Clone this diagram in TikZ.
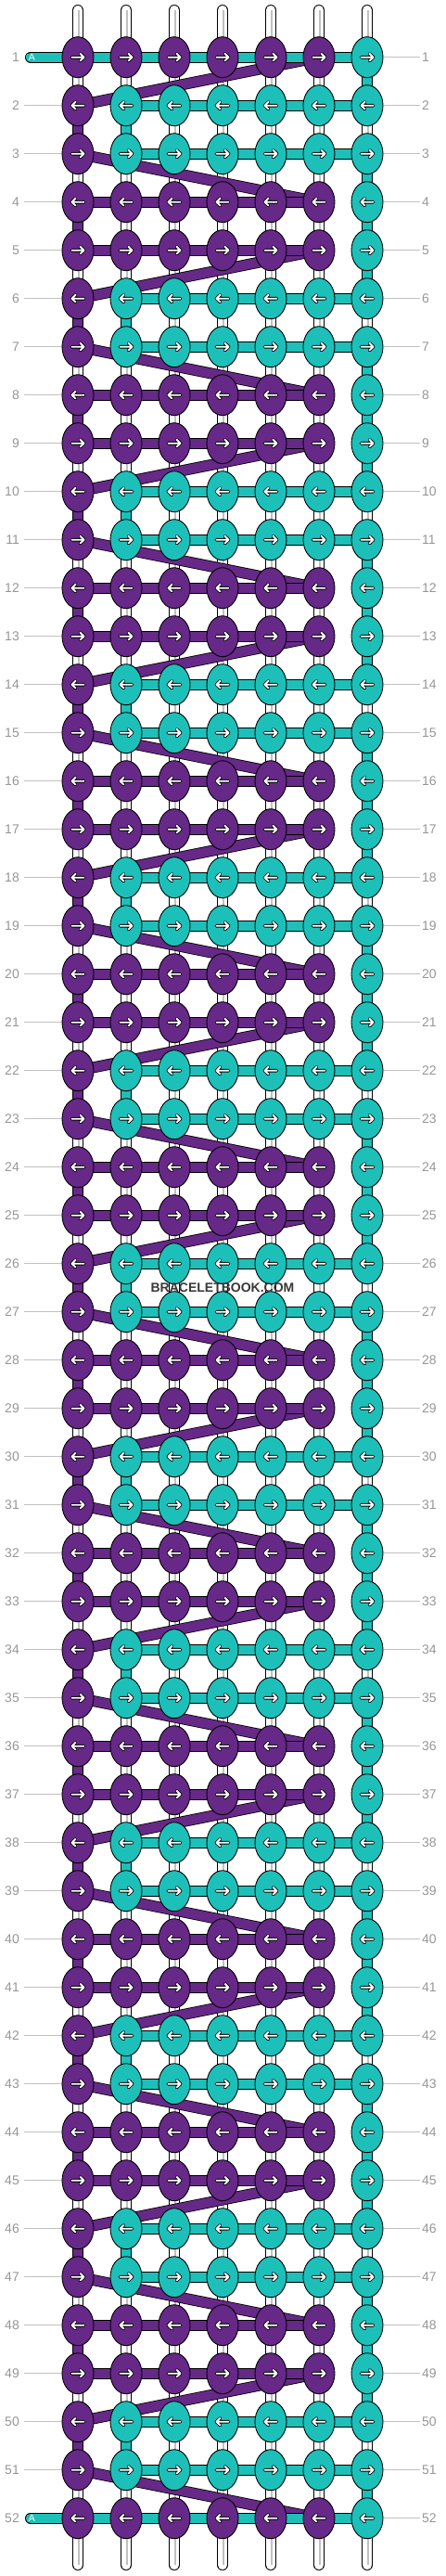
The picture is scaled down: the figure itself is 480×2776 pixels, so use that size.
\documentclass[tikz,border=0pt]{standalone}
\usepackage{fontspec}
\setmainfont{Liberation Sans}
\usetikzlibrary{shapes.geometric}
\definecolor{bbpurple}{RGB}{102,41,135}
\definecolor{bbcyan}{RGB}{29,192,185}
\definecolor{rowgray}{RGB}{192,192,192}
\definecolor{numgray}{RGB}{150,150,150}
\tikzset{
  band/.style={line width=0.8pt, double distance=10.4pt},
  pband/.style={band, double=bbpurple},
  cband/.style={band, double=bbcyan},
  wband/.style={band, double=white},
  midline/.style={draw=rowgray, line width=1.2pt},
  knot/.style={ellipse, draw=black, line width=0.9pt, minimum width=34pt, minimum height=44pt, inner sep=0pt},
  pknot/.style={knot, fill=bbpurple},
  cknot/.style={knot, fill=bbcyan},
  rowline/.style={draw=rowgray, line width=1.1pt},
  rowno/.style={text=numgray, font=\fontsize{14}{14}\selectfont, inner sep=0pt},
  atag/.style={text=white, font=\fontsize{10.5}{10.5}\selectfont, inner sep=0pt},
  wmark/.style={text=black!78, font=\bfseries\fontsize{14}{14}\selectfont, inner sep=0pt},
  fwd/.pic={
    \draw[black, line width=3.6pt, line cap=round, line join=round] (-6.5,0) -- (6.5,0) (2.6,-3.8) -- (6.5,0) -- (2.6,3.8);
    \draw[white, line width=1.9pt, line cap=round, line join=round] (-6.5,0) -- (6.5,0) (2.6,-3.8) -- (6.5,0) -- (2.6,3.8);
  }
}
\begin{document}
\begin{tikzpicture}[x=1pt,y=-1pt]
\useasboundingbox (0,0) rectangle (480,2776);
\foreach \r in {1,...,52}{
  \foreach \c in {1,...,7}
    \coordinate (p-\r-\c) at ({32+52*\c},{9.7+52*\r});
  \coordinate (le-\r) at (26,{9.7+52*\r});
  \coordinate (re-\r) at (453,{9.7+52*\r});
  \coordinate (a-\r) at (33,{9.7+52*\r});
}
\foreach \c in {1,...,7}{
  \coordinate (top-\c) at ({32+52*\c},11);
  \coordinate (bot-\c) at ({32+52*\c},2764);
}
% row guide lines
\foreach \r in {1,...,52}
  \draw[rowline] (p-\r-7) -- (re-\r);
\foreach \r in {2,...,51}
  \draw[rowline] (le-\r) -- (p-\r-1);
% loose string ends
\foreach \c in {1,...,7}{
  \draw[wband, line cap=round] (top-\c) -- (p-1-\c);
  \draw[midline] ([xshift=1pt]top-\c) -- ([xshift=1pt]p-1-\c);
  \draw[wband, line cap=round] (p-52-\c) -- (bot-\c);
  \draw[midline] ([xshift=1pt]p-52-\c) -- ([xshift=1pt]bot-\c);
}
% strings between rows
\foreach \r [evaluate=\r as \rn using int(\r+1)] in {1,...,51}{
  \pgfmathtruncatemacro{\m}{mod(\r,4)}
  \foreach \c in {1,...,7}{
    \def\vs{wband}\def\vw{1}
    \ifnum\c=1 \ifodd\r\relax\else\def\vs{pband}\def\vw{0}\fi\fi
    \ifnum\c=2 \ifnum\m=2 \def\vs{cband}\def\vw{0}\fi\fi
    \ifnum\c=7 \ifnum\m=2 \else\def\vs{cband}\def\vw{0}\fi\fi
    \draw[\vs] (p-\r-\c) -- (p-\rn-\c);
    \ifnum\vw=1 \draw[midline] ([xshift=1pt]p-\r-\c) -- ([xshift=1pt]p-\rn-\c);\fi
  }
}
% carried purple string
\foreach \r [evaluate=\r as \rn using int(\r+1)] in {1,5,...,49}
  \draw[pband] (p-\r-6) -- (p-\rn-1);
\foreach \r [evaluate=\r as \rn using int(\r+1)] in {3,7,...,51}
  \draw[pband] (p-\r-1) -- (p-\rn-6);
% strings along the rows
\foreach \r in {1,52}
  \draw[cband, line cap=round] (a-\r) -- (p-\r-7);
\foreach \r in {2,...,51}{
  \pgfmathtruncatemacro{\m}{mod(\r,4)}
  \ifnum\m<2 \draw[pband] (p-\r-1) -- (p-\r-6);
  \else \draw[cband] (p-\r-2) -- (p-\r-7);\fi
}
% knots
\foreach \r in {1,...,52}{
  \pgfmathtruncatemacro{\m}{mod(\r,4)}
  \pgfmathtruncatemacro{\dir}{ifthenelse(mod(\r,2)==1,1,-1)}
  \foreach \c in {1,...,7}{
    \def\ks{pknot}
    \ifnum\c=7 \def\ks{cknot}\fi
    \ifnum\c>1 \ifnum\m>1 \def\ks{cknot}\fi\fi
    \node[\ks] (k-\r-\c) at (p-\r-\c) {};
    \pic[xscale=\dir] at (k-\r-\c.center) {fwd};
  }
  \node[rowno, anchor=east] (ln-\r) at (21,{9.7+52*\r}) {\r};
  \node[rowno, anchor=west] (rn-\r) at (455,{9.7+52*\r}) {\r};
}
\node[atag] (tag-1) at ([xshift=1.3pt]a-1) {A};
\node[atag] (tag-52) at ([xshift=1.3pt]a-52) {A};
\node[wmark] (wm) at (240,1387.7) {BRACELETBOOK.COM};
\end{tikzpicture}
\end{document}
